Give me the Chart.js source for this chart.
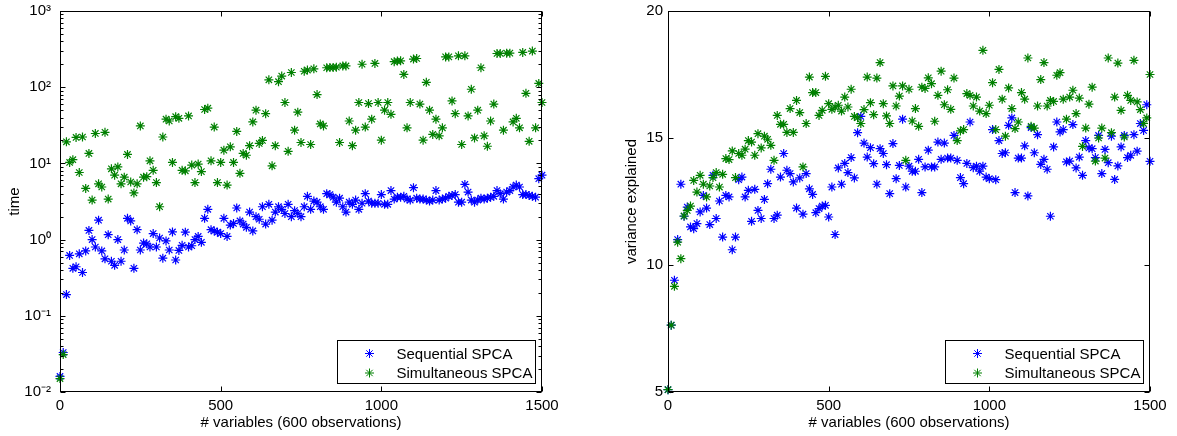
<!DOCTYPE html>
<html>
<head>
<meta charset="utf-8">
<script src="https://cdn.jsdelivr.net/npm/chart.js@4.4.0/dist/chart.umd.min.js"></script>
<style>
  html, body { margin: 0; padding: 0; background: #fff; }
  #wrap { position: relative; width: 1177px; height: 436px; }
  #timeChart { position: absolute; left: 0; top: 0; }
  #varChart { position: absolute; left: 620px; top: 0; }
</style>
</head>
<body>
<div id="wrap">
  <canvas id="timeChart" width="560" height="436"></canvas>
  <canvas id="varChart" width="557" height="436"></canvas>
</div>
<script>
// number of variables (shared x values for both panels)
const nVars = [
  0, 10, 20, 30, 40, 50, 60, 70, 80, 90, 100, 110, 120, 130, 140, 150, 160, 170, 180, 190,
  200, 210, 220, 230, 240, 250, 260, 270, 280, 290, 300, 310, 320, 330, 340, 350, 360, 370, 380, 390,
  400, 410, 420, 430, 440, 450, 460, 470, 480, 490, 500, 510, 520, 530, 540, 550, 560, 570, 580, 590,
  600, 610, 620, 630, 640, 650, 660, 670, 680, 690, 700, 710, 720, 730, 740, 750, 760, 770, 780, 790,
  800, 810, 820, 830, 840, 850, 860, 870, 880, 890, 900, 910, 920, 930, 940, 950, 960, 970, 980, 990,
  1000, 1010, 1020, 1030, 1040, 1050, 1060, 1070, 1080, 1090, 1100, 1110, 1120, 1130, 1140, 1150, 1160, 1170, 1180, 1190,
  1200, 1210, 1220, 1230, 1240, 1250, 1260, 1270, 1280, 1290, 1300, 1310, 1320, 1330, 1340, 1350, 1360, 1370, 1380, 1390,
  1400, 1410, 1420, 1430, 1440, 1450, 1460, 1470, 1480, 1490, 1500
];

// left panel: time
const seqTime = [
  0.016, 0.033, 0.19, 0.62, 0.42, 0.44, 0.65, 0.37, 0.71, 1.32,
  1.0, 0.80, 1.8, 0.71, 0.56, 1.16, 0.52, 0.46, 1.0, 0.52,
  0.73, 1.9, 1.76, 0.42, 1.35, 0.73, 0.9, 0.88, 0.8, 1.2,
  0.8, 1.05, 0.57, 0.96, 0.73, 1.26, 0.54, 0.72, 0.84, 1.25,
  0.8, 0.83, 1.0, 1.1, 0.92, 1.9, 2.5, 1.35, 1.3, 1.25,
  1.2, 1.9, 1.1, 1.55, 1.63, 2.6, 1.76, 1.6, 1.45, 2.3,
  1.3, 2.0, 1.85, 2.7, 1.6, 2.9,
  1.8, 2.3, 2.7, 2.5, 2.2, 2.9, 2.0, 2.4, 2.2, 2.0, 2.7,
  3.7, 2.5, 3.2, 3.1, 2.7, 2.5, 4.0, 3.9, 3.6, 3.1,
  3.5, 2.7, 2.3, 3.1, 2.9, 3.3, 2.5, 3.0, 4.0, 3.2, 3.0,
  3.0, 3.0, 3.9, 2.9, 2.9, 4.4, 3.4, 3.6, 3.6, 3.7,
  3.4, 3.3, 4.8, 3.5, 3.4, 3.4, 3.3, 3.2, 3.3, 4.4, 3.3,
  3.4, 3.5, 3.7, 3.8, 3.9, 3.1, 3.1, 5.3, 4.2, 3.3,
  3.1, 3.3, 3.5, 3.4, 3.5, 3.6, 3.7, 4.4, 4.0, 3.4,
  4.2, 4.4, 4.9, 5.2, 4.9, 3.9, 3.9, 3.8, 3.7, 3.6, 6.3, 7.0
];
const simTime = [
  0.015, 0.031, 19.2, 10.3, 11.2, 21.9, 7.6, 22.2, 4.7, 13.5,
  3.3, 24.7, 5.4, 4.9, 25.6, 3.4, 8.5, 7.0, 9.0, 5.4,
  6.6, 13.1, 5.7, 4.1, 5.4, 31, 6.6, 6.7, 10.8, 8.1,
  5.6, 2.7, 22.2, 38, 36, 10.3, 41, 39, 8.1, 8.0,
  42, 9.5, 5.6, 9.8, 7.8, 51, 53, 10.8, 30, 5.6,
  10.3, 14.9, 5.2, 16.5, 10.3, 26.3, 7.4, 13.5, 12.8, 17.1,
  35, 50, 18.3, 20, 45, 125, 9.3, 17.1, 118, 140,
  63, 14.4, 156, 27.3, 47, 18.8, 162, 168, 17.7, 174,
  80, 33, 31, 180, 181, 182, 183, 18.8, 190, 190,
  36, 17.1, 27.3, 63, 200, 30, 61, 38, 205, 63,
  20.2, 50, 63, 44, 216, 220, 222, 147, 29.3, 63,
  234, 238, 60, 20.2, 116, 50, 24, 38, 23, 29.3,
  250, 250, 66, 45, 258, 17.7, 258, 42, 94, 21.6,
  50, 180, 23, 16.8, 36, 60, 277, 277, 27.3, 280,
  280, 35, 39, 29.3, 286, 83, 19.5, 298, 29.3, 112,
  63
];

// right panel: variance explained
const seqVar = [
  5.09, 7.63, 9.4, 11.0, 13.18, 11.92, 12.28, 11.5, 11.43, 11.63,
  12.09, 12.74, 12.24, 11.59, 13.53, 11.83, 12.52, 11.1, 12.74, 12.68,
  10.6, 11.1, 13.36, 13.46, 12.68, 12.94, 11.72, 12.98, 12.15, 11.83,
  12.58, 13.2, 13.77, 11.83, 11.96, 13.46, 14.39, 13.73, 13.6, 13.27,
  12.24, 13.43, 12.0, 13.6, 13.0, 12.78, 12.06, 12.22, 12.32, 12.35,
  11.89, 13.07, 11.2, 13.82, 13.18, 14.0, 13.64, 14.23, 13.43, 15.21,
  15.85, 14.8, 14.25, 14.62, 13.99, 13.18, 14.58, 14.39, 13.95, 12.81,
  14.78, 13.4, 13.92, 15.74, 13.07, 13.89, 13.69, 13.69, 14.16, 12.85,
  13.86, 14.52, 13.86, 13.86, 14.84, 14.16, 14.8, 14.21, 14.21, 15.1,
  14.12, 13.44, 13.2, 14.0, 15.63, 13.83, 13.89, 13.69, 13.89, 13.46,
  13.4, 15.33, 13.36, 14.9, 14.39, 14.42, 15.5, 15.79, 12.85, 14.21,
  14.21, 14.69, 12.72, 15.41, 14.42, 15.13, 13.96, 14.16, 13.77, 11.92,
  14.65, 15.63, 15.24, 15.33, 14.06, 14.09, 15.53, 13.82, 14.25, 13.53,
  14.9, 14.61, 14.58, 14.23, 15.1, 13.6, 14.55, 14.03, 15.07, 13.37,
  13.9, 14.65, 15.1, 14.23, 14.32, 15.13, 14.48, 15.57, 15.3, 16.31,
  14.08
];
const simVar = [
  5.09, 7.63, 9.16, 10.9, 10.25, 11.93, 12.15, 12.32, 13.33, 12.87,
  13.53, 13.18, 12.68, 13.11, 13.44, 13.64, 13.07, 13.57, 14.19, 14.15,
  14.49, 13.44, 14.39, 14.32, 14.56, 14.9, 14.84, 14.32, 15.17, 14.61,
  15.07, 14.95, 14.71, 14.12, 15.89, 15.54, 15.54, 15.22, 16.16, 15.22,
  16.48, 16.0, 13.86, 15.57, 17.4, 16.79, 16.79, 15.89, 16.09, 17.43,
  16.35, 16.13, 16.22, 16.29, 16.06, 16.61, 16.22, 16.92, 15.85, 15.8,
  15.57, 16.12, 17.4, 16.39, 15.92, 17.36, 17.97, 16.35, 15.87, 15.57,
  17.05, 16.26, 16.65, 17.05, 14.12, 16.92, 15.67, 16.16, 15.46, 17.0,
  16.95, 17.37, 17.14, 15.66, 16.68, 17.63, 16.31, 16.9, 16.13, 17.36,
  14.9, 15.28, 15.33, 16.75, 16.68, 16.26, 16.61, 16.06, 18.45, 15.96,
  16.29, 17.18, 15.33, 17.7, 16.53, 15.07, 16.97, 16.16, 15.37, 15.63,
  16.79, 16.53, 18.15, 15.46, 15.39, 16.26, 17.3, 17.97, 16.26, 16.48,
  16.44, 17.47, 17.57, 16.53, 15.74, 16.61, 16.88, 15.96, 16.57, 14.67,
  15.39, 16.33, 17.0, 14.09, 15.0, 15.39, 14.21, 18.15, 15.21, 16.61,
  17.95, 16.09, 15.04, 16.68, 16.48, 18.06, 16.42, 16.12, 15.57, 15.79,
  17.5
];

// axis ticks
const xTicks = [0, 500, 1000, 1500];
const xTickLabels = ['0', '500', '1000', '1500'];
const timeTicks = [0.01, 0.1, 1, 10, 100, 1000];
const timeTickLabels = ['10\u207B\u00B2', '10\u207B\u00B9', '10\u2070', '10\u00B9', '10\u00B2', '10\u00B3'];
const varTicks = [5, 10, 15, 20];
const varTickLabels = ['5', '10', '15', '20'];

const seriesNames = ['Sequential SPCA', 'Simultaneous SPCA'];
const seriesColors = ['#0000ff', '#008000'];
const xTitle = '# variables (600 observations)';

const FONT = 'Liberation Sans, Arial, Helvetica, sans-serif';
Chart.defaults.font.family = FONT;
Chart.defaults.font.size = 15;
Chart.defaults.color = '#000';

// minor ticks of the log axis (2..9 in each decade)
const timeMinor = [];
timeTicks.slice(0, -1).forEach(d => {
  for (let m = 2; m <= 9; m++) timeMinor.push(d * m);
});

// frame, inward ticks and the boxed legend, matlab style
const framePlugin = {
  id: 'frame',
  afterDraw(chart, args, opts) {
    const { ctx, chartArea: a, scales } = chart;
    const L = Math.round(a.left) + 0.5, R = Math.round(a.right) - 0.5;
    const T = Math.round(a.top) + 0.5, B = Math.round(a.bottom) - 0.5;
    ctx.save();
    ctx.strokeStyle = '#000';
    ctx.lineWidth = 1;
    ctx.strokeRect(L, T, R - L, B - T);

    ctx.beginPath();
    xTicks.forEach(v => {
      const px = Math.round(scales.x.getPixelForValue(v)) + 0.5;
      ctx.moveTo(px, B); ctx.lineTo(px, B - 5);
      ctx.moveTo(px, T); ctx.lineTo(px, T + 5);
    });
    const tick = (v, len) => {
      const py = Math.round(scales.y.getPixelForValue(v)) + 0.5;
      ctx.moveTo(L, py); ctx.lineTo(L + len, py);
      ctx.moveTo(R, py); ctx.lineTo(R - len, py);
    };
    opts.major.forEach(v => tick(v, 5));
    (opts.minor || []).forEach(v => tick(v, 3));
    ctx.stroke();

    // legend box
    const bx = Math.round(a.right) - 204.5, by = Math.round(a.bottom) - 51.5;
    const bw = 198, bh = 43;
    ctx.fillStyle = '#fff';
    ctx.fillRect(bx, by, bw, bh);
    ctx.strokeRect(bx, by, bw, bh);
    ctx.font = '15px ' + FONT;
    ctx.textBaseline = 'middle';
    ctx.textAlign = 'left';
    chart.data.datasets.forEach((ds, i) => {
      const ry = by + 13 + i * 19.5;
      ctx.strokeStyle = ds.borderColor;
      ctx.fillStyle = ds.borderColor;
      Chart.helpers.drawPoint(ctx, { pointStyle: 'star', radius: 4.5, borderWidth: 1.2, rotation: 0 }, bx + 32, ry);
      ctx.fillStyle = '#000';
      ctx.fillText(ds.label, bx + 59, ry + 1);
    });
    ctx.restore();
  }
};

function makeDataset(i, values) {
  return {
    label: seriesNames[i],
    data: nVars.map((x, k) => ({ x: x, y: values[k] })),
    pointStyle: 'star',
    pointRadius: 4.5,
    pointBorderWidth: 1.2,
    borderColor: seriesColors[i],
    backgroundColor: seriesColors[i],
    showLine: false,
    clip: false,
    order: 2 - i
  };
}

function makeChart(canvasId, seqVals, simVals, yCfg) {
  const ctx = document.getElementById(canvasId).getContext('2d');
  return new Chart(ctx, {
    type: 'scatter',
    data: { datasets: [makeDataset(0, seqVals), makeDataset(1, simVals)] },
    options: {
      responsive: false,
      animation: false,
      events: [],
      layout: { padding: { top: 11, right: yCfg.padRight, left: 0, bottom: 0 } },
      plugins: {
        legend: { display: false },
        tooltip: { enabled: false },
        frame: { major: yCfg.ticks, minor: yCfg.minor }
      },
      scales: {
        x: {
          type: 'linear',
          min: 0,
          max: 1500,
          afterBuildTicks: s => { s.ticks = xTicks.map(v => ({ value: v })); },
          afterFit: s => {
            s.height = 44;
            s.paddingLeft = 0; s.paddingRight = 0;
          },
          grid: { display: false, drawTicks: false },
          border: { display: false },
          ticks: {
            padding: 5, maxRotation: 0, autoSkip: false, color: '#000',
            callback: (v, idx) => xTickLabels[idx]
          },
          title: { display: true, text: xTitle, color: '#000', padding: { top: 0, bottom: 4 } }
        },
        y: {
          type: yCfg.type,
          min: yCfg.ticks[0],
          max: yCfg.ticks[yCfg.ticks.length - 1],
          afterBuildTicks: s => { s.ticks = yCfg.ticks.map(v => ({ value: v })); },
          afterFit: s => {
            s.width = yCfg.width;
            s.paddingTop = 0; s.paddingBottom = 0;
          },
          grid: { display: false, drawTicks: false },
          border: { display: false },
          ticks: {
            padding: yCfg.labelPad,
            autoSkip: false,
            color: '#000',
            callback: (v, idx) => yCfg.labels[idx]
          },
          title: { display: true, text: yCfg.title, color: '#000', padding: { top: yCfg.titlePad, bottom: 0 } }
        }
      }
    },
    plugins: [framePlugin]
  });
}

makeChart('timeChart', seqTime, simTime, {
  type: 'logarithmic', ticks: timeTicks, labels: timeTickLabels, minor: timeMinor,
  title: 'time', width: 60, labelPad: 9, titlePad: 6, padRight: 18
});
makeChart('varChart', seqVar, simVar, {
  type: 'linear', ticks: varTicks, labels: varTickLabels, minor: [],
  title: 'variance explained', width: 48, labelPad: 5, titlePad: 3, padRight: 27
});
</script>
</body>
</html>
